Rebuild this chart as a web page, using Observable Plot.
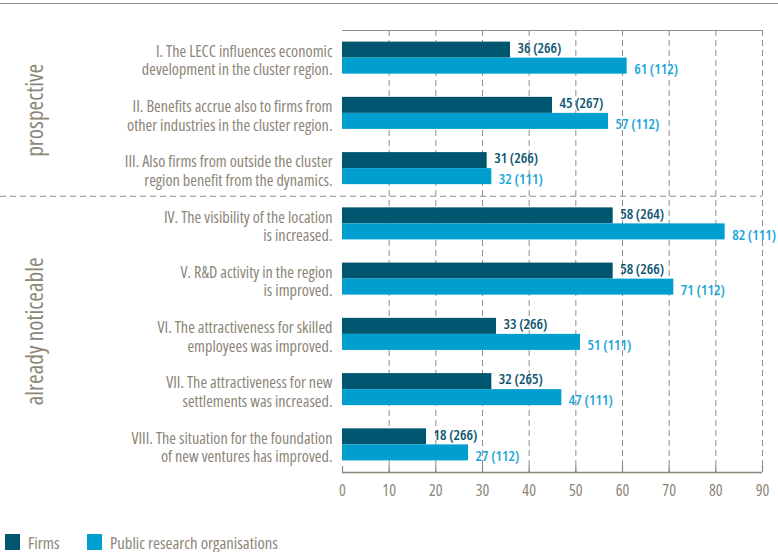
<!DOCTYPE html>
<html><head><meta charset="utf-8">
<script src="https://cdn.jsdelivr.net/npm/d3@7"></script>
<script src="https://cdn.jsdelivr.net/npm/@observablehq/plot@0.6"></script>
<style>
body{margin:0;background:#fff;}
#top{border-top:1px solid #8f8f8f;margin-top:3px;width:778px;height:0;}
#legend{display:flex;align-items:center;margin-left:5px;margin-top:13px;color:#8c8578;height:20px;}
.item{display:flex;align-items:center;}
.sw{width:15px;height:16px;display:inline-block;margin-right:8px;}
</style></head><body>
<div id="top"></div><div id="chart"></div><div id="legend"></div>
<script>
const categories = [
  "I. The LECC influences economic\ndevelopment in the cluster region.",
  "II. Benefits accrue also to firms from\nother industries in the cluster region.",
  "III. Also firms from outside the cluster\nregion benefit from the dynamics.",
  "IV. The visibility of the location\nis increased.",
  "V. R&D activity in the region\nis improved.",
  "VI. The attractiveness for skilled\nemployees was improved.",
  "VII. The attractiveness for new\nsettlements was increased.",
  "VIII. The situation for the foundation\nof new ventures has improved."
];
const firms  = [36, 45, 31, 58, 58, 33, 32, 18];
const firmsN = [266, 267, 266, 264, 266, 266, 265, 266];
const pro    = [61, 57, 32, 82, 71, 51, 47, 27];
const proN   = [112, 112, 111, 111, 112, 111, 111, 112];
const groups = ["prospective", "already noticeable"];
const groupOf = [0, 0, 0, 1, 1, 1, 1, 1];
const series = ["Firms", "Public research organisations"];
const xTicks = [0, 10, 20, 30, 40, 50, 60, 70, 80, 90];

const barColors = ["#00566f", "#009fd0"];
const labelColors = ["#0d5670", "#1aa6d8"];
const grey = "#8c8578";
const gridGrey = "#8e8e8e";

// ---- pick a condensed font available locally ----
function measure(text, family, stretch, size, weight) {
  const s = document.createElement("span");
  s.style.cssText = `position:absolute;visibility:hidden;white-space:pre;font-family:${family};font-stretch:${stretch};font-size:${size}px;font-weight:${weight || 400}`;
  s.textContent = text; document.body.appendChild(s);
  const w = s.getBoundingClientRect().width; s.remove(); return w;
}
const probe = "I. The LECC influences economic";
let FAMILY = '"DejaVu Sans Condensed", sans-serif', STRETCH = "normal";
for (const f of ['"Open Sans"', '"Noto Sans"', 'Roboto']) {
  const wn = measure(probe, f, "100%", 100), wc = measure(probe, f, "75%", 100);
  if (wc < wn * 0.92) { FAMILY = f + ', sans-serif'; STRETCH = "75%"; break; }
}
function fit(text, target, lo, hi, weight) {
  const w = measure(text, FAMILY, STRETCH, 100, weight);
  return Math.max(lo, Math.min(hi, 100 * target / w));
}
const fsCat = fit(probe, 184, 12, 16.2);
const fsVal = fit("82 (111)", 44, 11, 16, 600);
const fsGroup = fit("already noticeable", 148, 17, 24);
const fsLegend = fit("Public research organisations", 168, 12, 20);
const fsTick = 16;

const H = 0.29;
const rows = [];
categories.forEach((c, i) => {
  rows.push({i, s: 0, value: firms[i], n: firmsN[i], y1: i - H, y2: i, ym: i - H / 2});
  rows.push({i, s: 1, value: pro[i], n: proN[i], y1: i, y2: i + H, ym: i + H / 2});
});
const groupRows = groups.map((g, gi) => {
  const idx = groupOf.map((v, i) => v === gi ? i : null).filter(v => v !== null);
  return {label: g, y: d3.mean(idx)};
});
const sepY = groupOf.indexOf(1) - 0.5;

const W = 778, HT = 515, mL = 342, mR = 16, mT = 26, mB = 47;
const n = categories.length;

const marks = [
  Plot.ruleX(xTicks.slice(1), {stroke: gridGrey, strokeDasharray: "6,4"}),
  Plot.ruleY([-0.5], {stroke: gridGrey}),
  Plot.ruleY([sepY], {stroke: gridGrey, strokeDasharray: "6,4", insetLeft: -mL})
];
[0, 1].forEach(s => {
  marks.push(Plot.rect(rows.filter(d => d.s === s), {x1: () => 0, x2: "value", y1: "y1", y2: "y2", fill: barColors[s]}));
});
[0, 1].forEach(s => {
  marks.push(Plot.text(rows.filter(d => d.s === s), {
    x: "value", y: "ym", text: d => `${d.value} (${d.n})`,
    dx: 7, dy: s ? 3 : -2, textAnchor: "start", fill: labelColors[s],
    fontWeight: 600, fontSize: fsVal
  }));
});
marks.push(
  Plot.ruleY([n - 0.5], {stroke: grey, strokeWidth: 1.5}),
  Plot.ruleX(xTicks, {stroke: grey, strokeWidth: 1.2, insetTop: (HT - mB - mT) - 6}),
  Plot.text(categories, {frameAnchor: "left", y: (d, i) => i, text: d => d, textAnchor: "end",
    dx: -10, dy: 2, lineHeight: 18.5 / fsCat, fill: grey, fontSize: fsCat}),
  Plot.text(groupRows, {frameAnchor: "left", y: "y", text: "label", rotate: -90, textAnchor: "middle",
    dx: 35 - mL, dy: -3, fill: grey, fontSize: fsGroup})
);

const chart = Plot.plot({
  width: W, height: HT, marginLeft: mL, marginRight: mR, marginTop: mT, marginBottom: mB,
  style: {fontFamily: FAMILY, fontStretch: STRETCH, fontSize: fsTick + "px", color: grey, background: "white", overflow: "visible"},
  x: {domain: [0, 90], ticks: xTicks, tickSize: 0, tickPadding: 12, label: null},
  y: {domain: [-0.5, n - 0.5], range: [mT, HT - mB], axis: null},
  marks
});
document.getElementById("chart").appendChild(chart);

const legend = document.getElementById("legend");
legend.style.fontFamily = FAMILY;
legend.style.fontStretch = STRETCH;
legend.style.fontSize = fsLegend + "px";
series.forEach((s, k) => {
  const it = document.createElement("div");
  it.className = "item";
  if (k === 0) it.style.width = "82px";
  const sw = document.createElement("span");
  sw.className = "sw"; sw.style.background = barColors[k];
  const t = document.createElement("span"); t.textContent = s;
  it.appendChild(sw); it.appendChild(t);
  legend.appendChild(it);
});
</script>
</body></html>
